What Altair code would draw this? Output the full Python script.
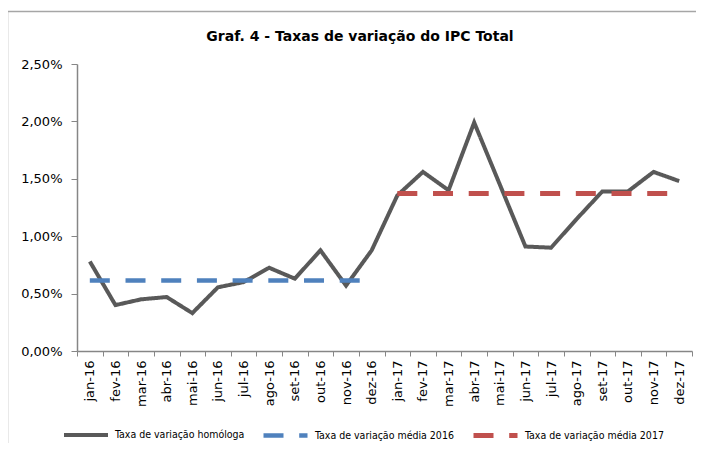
import altair as alt
import pandas as pd

months = ["jan-16", "fev-16", "mar-16", "abr-16", "mai-16", "jun-16",
          "jul-16", "ago-16", "set-16", "out-16", "nov-16", "dez-16",
          "jan-17", "fev-17", "mar-17", "abr-17", "mai-17", "jun-17",
          "jul-17", "ago-17", "set-17", "out-17", "nov-17", "dez-17"]

homologa = [0.78, 0.40, 0.45, 0.47, 0.33, 0.555, 0.60, 0.725, 0.63, 0.877, 0.57, 0.877,
            1.355, 1.56, 1.40, 1.99, 1.45, 0.91, 0.90, 1.15, 1.39, 1.39, 1.56, 1.48]

media_2016 = 0.615
media_2017 = 1.373

titulo = "Graf. 4 - Taxas de variação do IPC Total"
series = ["Taxa de variação homóloga",
          "Taxa de variação média 2016",
          "Taxa de variação média 2017"]
colors = ["#595959", "#4F81BD", "#C0504D"]
dashes = [[1, 0], [20, 15.7], [20, 15.7]]
widths = [4, 5, 5]

rows = []
for m, v in zip(months, homologa):
    rows.append({"mes": m, "valor": v, "serie": series[0]})
for m in months[:12]:
    rows.append({"mes": m, "valor": media_2016, "serie": series[1]})
for m in months[12:]:
    rows.append({"mes": m, "valor": media_2017, "serie": series[2]})
df = pd.DataFrame(rows)

legend_cfg = dict(
    orient="none", direction="horizontal", legendX=-15, legendY=347,
    title=None, symbolType="stroke", symbolSize=1936, symbolStrokeWidth=4.5,
    labelFont="DejaVu Sans Condensed, DejaVu Sans", labelFontSize=10.5,
    labelColor="#000000", labelOffset=5, columnPadding=9, gridAlign="none",
)

lines = alt.Chart(df).mark_line().encode(
    x=alt.X("mes:N", sort=months, bandPosition=0.5,
            scale=alt.Scale(type="band", paddingInner=0, paddingOuter=0),
            axis=alt.Axis(title=None, labelAngle=-90, tickBand="extent",
                          tickSize=5, labelPadding=4)),
    y=alt.Y("valor:Q", scale=alt.Scale(domain=[0, 2.5], nice=False),
            axis=alt.Axis(title=None, values=[0, 0.5, 1, 1.5, 2, 2.5], grid=False,
                          tickSize=6, labelPadding=9,
                          labelExpr="replace(format(datum.value, '.2f'), '.', ',') + '%'")),
    color=alt.Color("serie:N", scale=alt.Scale(domain=series, range=colors),
                    legend=alt.Legend(**legend_cfg)),
    strokeDash=alt.StrokeDash("serie:N", scale=alt.Scale(domain=series, range=dashes),
                              legend=alt.Legend(**legend_cfg)),
    strokeWidth=alt.StrokeWidth("serie:N", scale=alt.Scale(domain=series, range=widths),
                                legend=None),
)

deco = pd.DataFrame({"t": [titulo]})

frame = alt.Chart(deco).mark_rect(
    filled=False, stroke="#a6a6a6", strokeWidth=1.5
).encode(
    x=alt.value(-69.5), x2=alt.value(640), y=alt.value(-52.5), y2=alt.value(420)
)

title_mark = alt.Chart(deco).mark_text(
    font="DejaVu Sans", fontSize=14, fontWeight="bold",
    color="#000000", align="center", baseline="alphabetic"
).encode(
    text="t:N", x=alt.value(283), y=alt.value(-23)
)

chart = alt.layer(frame, title_mark, lines).properties(
    width=615, height=287,
    autosize=alt.AutoSizeParams(type="none"),
    padding={"left": 69, "top": 56, "right": 4, "bottom": 92},
).configure_view(stroke=None).configure_axis(
    domainColor="#868686", tickColor="#868686", domainWidth=1.5, tickWidth=1,
    labelFont="DejaVu Sans", labelFontSize=13, labelColor="#000000"
)

chart.save("out.html", embed_options={"renderer": "svg", "actions": False})
